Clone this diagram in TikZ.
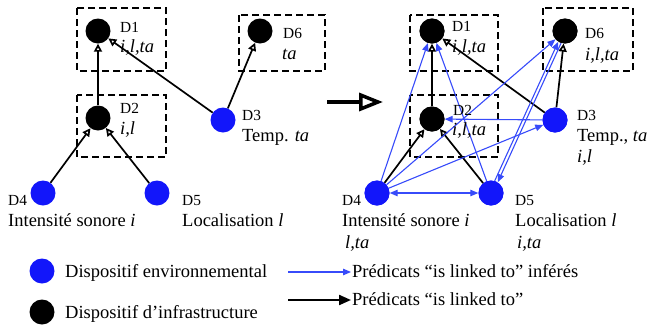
\documentclass[tikz,border=0pt]{standalone}
\usepackage{fontspec}
\setmainfont{Liberation Serif}
\usetikzlibrary{arrows.meta}
\definecolor{devblue}{RGB}{18,22,250}
\definecolor{linkblue}{RGB}{55,75,250}

\begin{document}
\begin{tikzpicture}[x=1pt,y=-1pt,
  dev/.style={circle,minimum size=25pt,inner sep=0pt},
  envdev/.style={dev,fill=devblue},
  infdev/.style={dev,fill=black},
  groupbox/.style={draw,line width=1.8pt,dash pattern=on 7pt off 4pt},
  linked/.style={line width=1.7pt,-{Triangle[open,length=8pt,width=8pt,fill=white]}},
  inferred/.style={draw=linkblue,line width=1.1pt,-{Triangle[length=8pt,width=6.5pt]}},
  inferredboth/.style={draw=linkblue,line width=1.1pt,{Triangle[length=8pt,width=6.5pt]}-{Triangle[length=8pt,width=6.5pt]}},
  dname/.style={anchor=base west,inner sep=0pt,font=\fontsize{15.4}{18}\selectfont},
  txt/.style={anchor=base west,inner sep=0pt,font=\fontsize{18.5}{21}\selectfont},
]
\useasboundingbox (0,0) rectangle (649,325);

% ---------- initial state ----------
\draw[groupbox] (77,8) rectangle (166,71);
\draw[groupbox] (239,15) rectangle (325,71);
\draw[groupbox] (77,95) rectangle (166,157);

\node[infdev] (l1) at (98,31) {};
\node[infdev] (l6) at (260,31) {};
\node[infdev] (l2) at (98,118) {};
\node[envdev] (l3) at (223,120) {};
\node[envdev] (l4) at (43,193) {};
\node[envdev] (l5) at (157,193) {};

\draw[linked] (l2) -- (l1);
\draw[linked] (l3) -- (l1);
\draw[linked] (l3) -- (l6);
\draw[linked] (l4) -- (l2);
\draw[linked] (l5) -- (l2);

\node[dname] (l1n) at (120,32) {D1};
\node[txt]   (l1p) at (120,52) {\itshape i,l,ta};
\node[dname] (l6n) at (283,38) {D6};
\node[txt]   (l6p) at (282,59) {\itshape ta};
\node[dname] (l2n) at (120,113) {D2};
\node[txt]   (l2p) at (120,134) {\itshape i,l};
\node[dname] (l3n) at (242,120) {D3};
\node[txt]   (l3p) at (242,141) {Temp. \textit{ta}};
\node[dname] (l4n) at (8,205) {D4};
\node[txt]   (l4p) at (8,226) {Intensité sonore \textit{i}};
\node[dname] (l5n) at (182,205) {D5};
\node[txt]   (l5p) at (182,226) {Localisation \textit{l}};

% ---------- transition ----------
\coordinate (tfrom) at (327,102);
\coordinate (tto) at (383,102);
\draw[line width=3.5pt,-{Triangle[open,length=24pt,width=18pt,fill=white]}] (tfrom) -- (tto);

% ---------- inferred state ----------
\draw[groupbox] (410,15) rectangle (498,71);
\draw[groupbox] (543,8) rectangle (633,71);
\draw[groupbox] (410,95) rectangle (498,157);

\node[infdev] (r1) at (432,31) {};
\node[infdev] (r6) at (565,31) {};
\node[infdev] (r2) at (432,119) {};
\node[envdev] (r3) at (555,120) {};
\node[envdev] (r4) at (377,193) {};
\node[envdev] (r5) at (491,193) {};

\draw[linked] (r2) -- (r1);
\draw[linked] (r3) -- (r1);
\draw[linked] (r3) -- (r6);
\draw[linked] (r4) -- (r2);
\draw[linked] (r5) -- (r2);

\draw[inferred] (r4) -- (r1);
\draw[inferred] (r5) -- (r1);
\draw[inferred] (r4) -- (r6);
\draw[inferred] (r4) -- (r3);
\draw[inferred] (r3) -- (r2);
\draw[inferred] (r5.73) -- (r6.238);
\draw[inferred] (r6.252) -- (r5.58);
\draw[inferredboth] (r4) -- (r5);

\node[infdev] at (r1) {};
\node[infdev] at (r6) {};
\node[infdev] at (r2) {};
\node[envdev] at (r3) {};
\node[envdev] at (r4) {};
\node[envdev] at (r5) {};

\node[dname] (r1n) at (452,31) {D1};
\node[txt]   (r1p) at (452,52) {\itshape i,l,ta};
\node[dname] (r6n) at (585,38) {D6};
\node[txt]   (r6p) at (585,60) {\itshape i,l,ta};
\node[dname] (r2n) at (453,115) {D2};
\node[txt]   (r2p) at (452,135) {\itshape i,l,ta};
\node[dname] (r3n) at (577,120) {D3};
\node[txt]   (r3p) at (577,141) {Temp., \textit{ta}};
\node[txt]   (r3q) at (577,162) {\itshape i,l};
\node[dname] (r4n) at (342,205) {D4};
\node[txt]   (r4p) at (342,226) {Intensité sonore \textit{i}};
\node[txt]   (r4q) at (345,248) {\itshape l,ta};
\node[dname] (r5n) at (515,205) {D5};
\node[txt]   (r5p) at (515,226) {Localisation \textit{l}};
\node[txt]   (r5q) at (517,248) {\itshape i,ta};

% ---------- legend ----------
\node[envdev] (kenv) at (42,271) {};
\node[txt] (kenvt) at (65,277) {Dispositif environnemental};
\node[infdev] (kinf) at (42,312) {};
\node[txt] (kinft) at (65,318) {Dispositif d’infrastructure};

\coordinate (kbs) at (288,272);
\coordinate (kbe) at (351,272);
\draw[inferred] (kbs) -- (kbe);
\node[txt] (kbt) at (352,277) {Prédicats “is linked to” inférés};

\coordinate (kks) at (288,300);
\coordinate (kke) at (351,300);
\draw[line width=2.2pt,-{Triangle[length=12pt,width=10pt]}] (kks) -- (kke);
\node[txt] (kkt) at (352,305) {Prédicats “is linked to”};
\end{tikzpicture}
\end{document}
